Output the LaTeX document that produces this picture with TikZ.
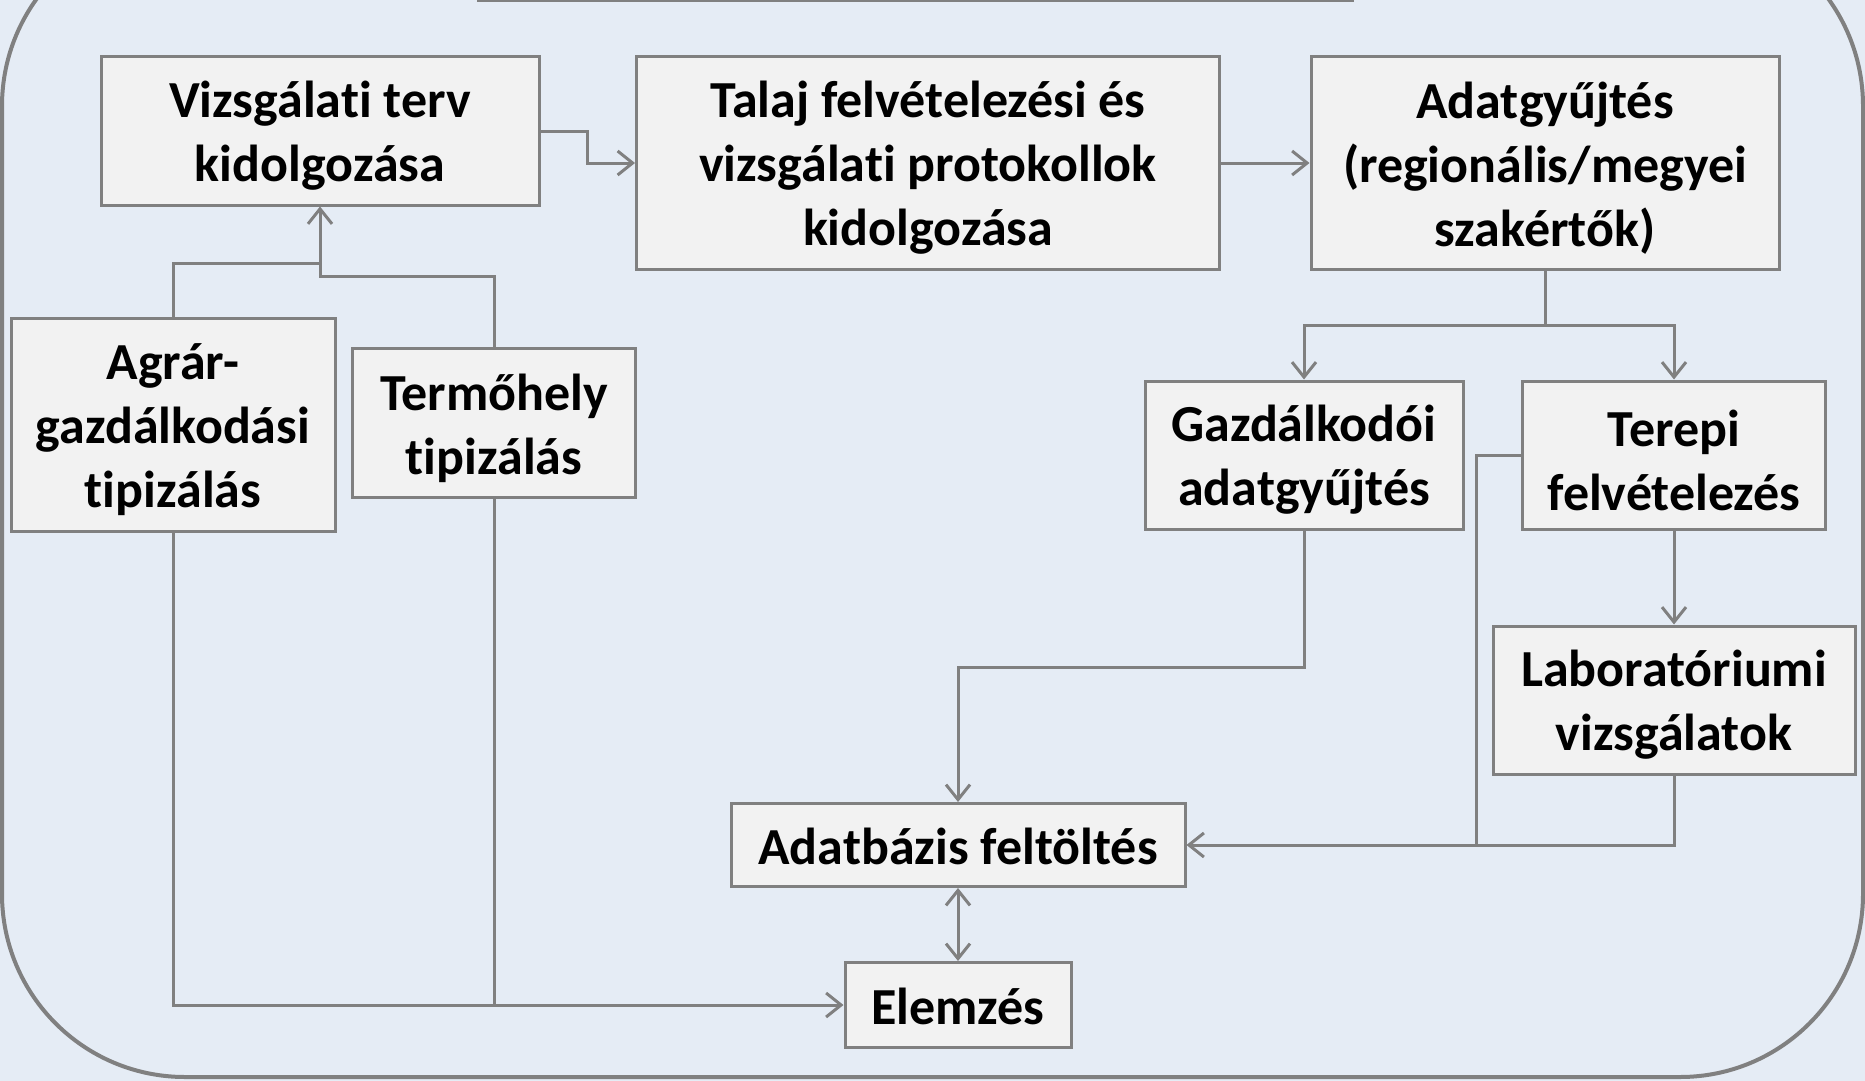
\documentclass[tikz,border=0pt]{standalone}
\usepackage{fontspec}
\setmainfont{Carlito}[Ligatures={NoCommon}]
\usetikzlibrary{arrows.meta}

\definecolor{bgblue}{HTML}{E5ECF5}
\definecolor{boxfill}{HTML}{F2F2F2}
\definecolor{linegray}{HTML}{808080}

\tikzset{
  box/.style={draw=linegray, line width=3pt, fill=boxfill, inner sep=0pt},
  txtbase/.style={align=center, inner sep=0pt,
    font=\fontsize{52}{64}\selectfont\bfseries},
  txt/.style={txtbase, yshift=-5pt},
  txtone/.style={txtbase, yshift=-1.5pt},
  link/.style={draw=linegray, line width=3pt},
  conn/.style={link, -{Straight Barb[length=15pt,width=24pt]}},
  conntwo/.style={link, {Straight Barb[length=15pt,width=24pt]}-{Straight Barb[length=15pt,width=24pt]}},
}

\begin{document}
\begin{tikzpicture}[x=1pt, y=-1pt]
  \useasboundingbox (0,0) rectangle (1865,1081);
  \clip (0,0) rectangle (1865,1081);
  \fill[bgblue] (0,0) rectangle (1865,1081);

  % outer frame and the title box above it
  \draw[linegray, line width=4pt, rounded corners=183pt] (2,-77) rectangle (1863,1077);
  \draw[linegray, line width=4pt, fill=boxfill] (479,-80) rectangle (1352,0.5);

  % process steps
  \node[box, minimum width=438pt, minimum height=148pt,
    label={[txt]center:{Vizsgálati terv\\kidolgozása}}] (plan) at (320,131) {};
  \node[box, minimum width=583pt, minimum height=212pt,
    label={[txt]center:{Talaj felvételezési és\\vizsgálati protokollok\\kidolgozása}}] (proto) at (928,163) {};
  \node[box, minimum width=468pt, minimum height=212pt,
    label={[txt]center:{Adatgyűjtés\\(regionális/megyei\\szakértők)}}] (data) at (1545,163) {};
  \node[box, minimum width=324pt, minimum height=213pt,
    label={[txt]center:{Agrár-\\gazdálkodási\\tipizálás}}] (agr) at (173,425) {};
  \node[box, minimum width=283pt, minimum height=149pt,
    label={[txt]center:{Termőhely\\tipizálás}}] (site) at (494,423) {};
  \node[box, minimum width=318pt, minimum height=148pt,
    label={[txt]center:{Gazdálkodói\\adatgyűjtés}}] (farm) at (1304,455) {};
  \node[box, minimum width=303pt, minimum height=148pt,
    label={[txt]center:{Terepi\\felvételezés}}] (field) at (1674,455) {};
  \node[box, minimum width=362pt, minimum height=148pt,
    label={[txt]center:{Laboratóriumi\\vizsgálatok}}] (lab) at (1674,700) {};
  \node[box, minimum width=454pt, minimum height=83pt,
    label={[txtone]center:{Adatbázis feltöltés}}] (db) at (958,845) {};
  \node[box, minimum width=226pt, minimum height=85pt,
    label={[txtone]center:{Elemzés}}] (ana) at (958,1005) {};

  % junction points
  \coordinate (split) at (1545,325);
  \coordinate (planjoin) at (320,263);
  \coordinate (dbjoin) at (1476,845);

  % connectors
  \draw[conn] (plan.east) -- ++(47,0) |- (proto.west);
  \draw[conn] (proto.east) -- (data.west);
  \draw[link] (data.south) -- (split);
  \draw[conn] (split) -| (farm.north);
  \draw[conn] (split) -| (field.north);
  \draw[conn] (field.south) -- (lab.north);
  \draw[conn] (lab.south) |- (db.east);
  \draw[link] (field.west) -| (dbjoin);
  \draw[conn] (farm.south) -- ++(0,137) -| (db.north);
  \draw[conntwo] (db.south) -- (ana.north);
  \draw[link] (agr.north) |- (planjoin);
  \draw[conn] (site.north) -- ++(0,-71) -| (plan.south);
  \draw[conn] (agr.south) |- (ana.west);
  \draw[link] (site.south) -- (site.south |- ana.west);
\end{tikzpicture}
\end{document}
